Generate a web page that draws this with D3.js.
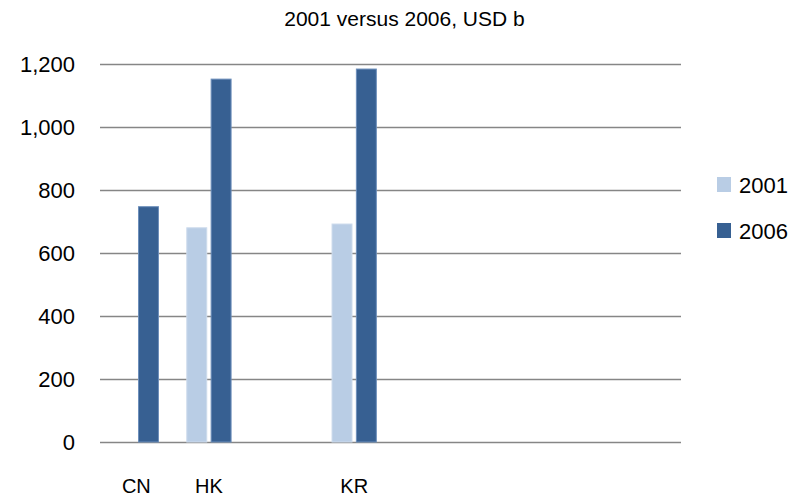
<!DOCTYPE html>
<html lang="en">
<head>
  <meta charset="UTF-8">
  <title>2001 versus 2006, USD b</title>
  <style>
    body { margin: 0; background: #fff; }
    svg { display: block; font-family: "Liberation Sans", Arial, sans-serif; }
    .grid line { stroke: #868686; stroke-width: 1.5; }
    .grid .domain, .x-axis .domain { display: none; }
    .y-axis text { font-size: 22px; fill: #000; }
    .x-axis text { font-size: 20px; fill: #000; }
    .legend text { font-size: 22px; fill: #000; }
    .title { font-size: 21px; fill: #000; }
  </style>
</head>
<body>
  <div id="chart"></div>

  <script src="https://d3js.org/d3.v7.min.js"></script>
  <script>
    // data (empty slots keep the original spacing)
    const categories = ["CN", "HK", "", "KR", "", "", "", ""];
    const series = ["2001", "2006"];
    const values2001 = [null, 680, null, 692, null, null, null, null];
    const values2006 = [747, 1152, null, 1184, null, null, null, null];
    const yTicks = [0, 200, 400, 600, 800, 1000, 1200];
    const colors = { "2001": "#b9cde5", "2006": "#376092" };
    const strokes = { "2001": "#cddbec", "2006": "#6d8fbb" };

    const W = 809, H = 500;
    const margin = { top: 64, right: 128, bottom: 58, left: 100 };
    const width = W - margin.left - margin.right;
    const height = H - margin.top - margin.bottom;

    const svg = d3.select("#chart")
      .append("svg")
      .attr("width", W)
      .attr("height", H);

    svg.append("text")
      .attr("class", "title")
      .attr("x", W / 2)
      .attr("y", 26)
      .attr("text-anchor", "middle")
      .text("2001 versus 2006, USD b");

    const g = svg.append("g")
      .attr("transform", "translate(" + margin.left + "," + margin.top + ")");

    const idx = categories.map((d, i) => i);

    const x0 = d3.scaleBand()
      .domain(idx)
      .range([0, width])
      .paddingInner(0.39)
      .paddingOuter(0.195);

    const x1 = d3.scaleBand()
      .domain(series)
      .range([0, x0.bandwidth()])
      .paddingInner(0.18);

    const y = d3.scaleLinear()
      .domain([0, 1200])
      .range([height, 0]);

    // gridlines (the 0 line doubles as the category axis)
    g.append("g")
      .attr("class", "grid")
      .call(d3.axisLeft(y).tickValues(yTicks).tickSize(-width).tickFormat(""));

    // y labels
    g.append("g")
      .attr("class", "y-axis")
      .call(d3.axisLeft(y).tickValues(yTicks).tickSize(0).tickPadding(25).tickFormat(d3.format(",")))
      .call(s => s.select(".domain").remove());

    // category labels
    g.append("g")
      .attr("class", "x-axis")
      .attr("transform", "translate(0," + height + ")")
      .call(d3.axisBottom(x0).tickSize(0).tickPadding(37).tickFormat(i => categories[i]));

    const rows = [];
    idx.forEach(i => {
      if (values2001[i] != null) rows.push({ i: i, s: "2001", v: values2001[i] });
      if (values2006[i] != null) rows.push({ i: i, s: "2006", v: values2006[i] });
    });

    g.selectAll("rect.bar")
      .data(rows)
      .enter()
      .append("rect")
      .attr("class", "bar")
      .attr("x", d => x0(d.i) + x1(d.s))
      .attr("y", d => y(d.v))
      .attr("width", x1.bandwidth())
      .attr("height", d => height - y(d.v))
      .attr("fill", d => colors[d.s])
      .attr("stroke", d => strokes[d.s])
      .attr("stroke-width", 1);

    // legend
    const legend = svg.append("g")
      .attr("class", "legend")
      .attr("transform", "translate(717,177)");

    const item = legend.selectAll("g")
      .data(series)
      .enter()
      .append("g")
      .attr("transform", (d, i) => "translate(0," + i * 46 + ")");

    item.append("rect")
      .attr("width", 14)
      .attr("height", 15)
      .attr("fill", d => colors[d]);

    item.append("text")
      .attr("x", 22)
      .attr("y", 8)
      .attr("dy", "0.35em")
      .text(d => d);
  </script>
</body>
</html>
